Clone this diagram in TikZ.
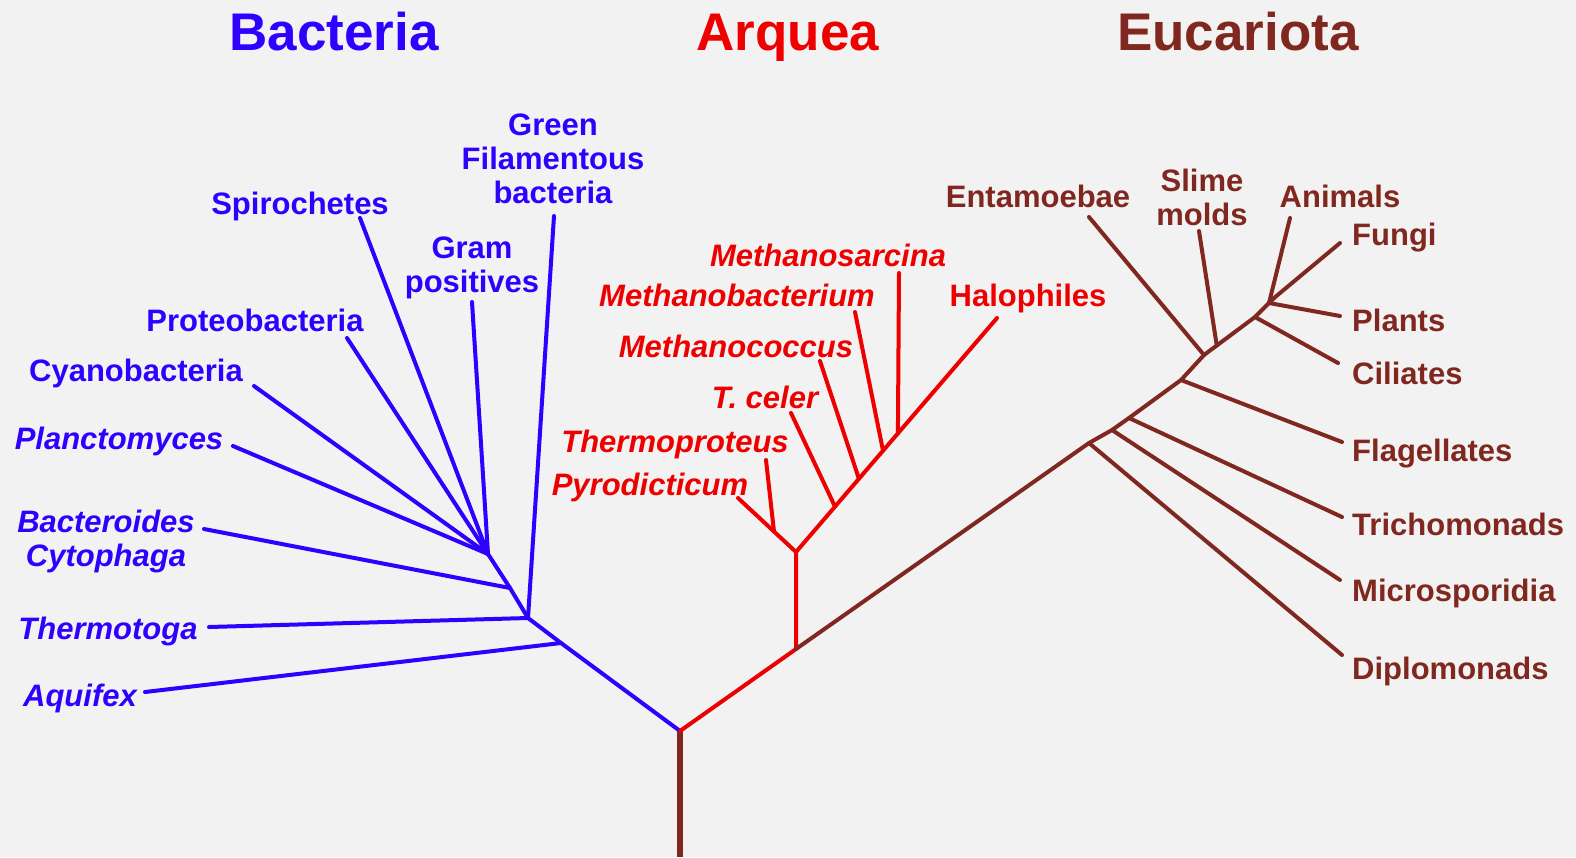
\documentclass[tikz,border=0pt]{standalone}
\usepackage{fontspec}
\usetikzlibrary{calc}
\setmainfont{Liberation Sans}
\definecolor{bact}{RGB}{45,0,255}
\definecolor{arq}{RGB}{238,0,0}
\definecolor{euc}{RGB}{128,40,32}
\definecolor{bgc}{RGB}{242,242,242}
\tikzset{
  lbl/.style={font=\fontsize{31}{34}\selectfont\bfseries, align=center, inner sep=0pt},
  itl/.style={font=\fontsize{31}{34}\selectfont\bfseries\itshape, align=center, inner sep=0pt},
  ttl/.style={font=\fontsize{53}{60}\selectfont\bfseries, inner sep=0pt},
  br/.style={line width=4pt, line cap=round, line join=round},
  bl/.style={br, draw=bact},
  rl/.style={br, draw=arq},
  el/.style={br, draw=euc},
}
\begin{document}
\begin{tikzpicture}[x=1pt,y=-1pt]
\fill[bgc] (0,0) rectangle (1576,857);
\useasboundingbox (0,0) rectangle (1576,857);

% titles
\node[ttl, text=bact, anchor=base] (tB) at (334,50) {Bacteria};
\node[ttl, text=arq, anchor=base] (tA) at (788,50) {Arquea};
\node[ttl, text=euc, anchor=base] (tE) at (1238,50) {Eucariota};

% ---------- root ----------
\coordinate (R) at (680,731);
\coordinate (Rb) at (680,857);
\draw[el, line width=5.5pt, line cap=butt] (R) -- (Rb);

% ---------- Bacteria ----------
\coordinate (Baq) at (561,643);
\coordinate (Bth) at (528,618);
\coordinate (Bbc) at (510,588);
\coordinate (C1) at (488,554);
\draw[bl] (R) -- (Baq) -- (Bth) -- (Bbc) -- (C1);

\node[lbl, text=bact] (nGreen) at (553,159) {Green\\Filamentous\\bacteria};
\node[lbl, text=bact, anchor=base] (nSpiro) at (300,214) {Spirochetes};
\node[lbl, text=bact] (nGram) at (472,268) {Gram\\positives};
\node[lbl, text=bact, anchor=base] (nProt) at (255,331) {Proteobacteria};
\node[lbl, text=bact, anchor=base] (nCyan) at (136,381) {Cyanobacteria};
\node[itl, text=bact, anchor=base] (nPlan) at (119,449) {Planctomyces};
\node[itl, text=bact] (nBact) at (106,541) {Bacteroides\\Cytophaga};
\node[itl, text=bact, anchor=base] (nTherm) at (108,639) {Thermotoga};
\node[itl, text=bact, anchor=base] (nAqu) at (80,706) {Aquifex};

\coordinate (eGreen) at (554,216);
\coordinate (eSpiro) at (360,218);
\coordinate (eGram) at (472,302);
\coordinate (eProt) at (347,338);
\coordinate (eCyan) at (254,386);
\coordinate (ePlan) at (233,446);
\coordinate (eBact) at (204,529);
\coordinate (eTherm) at (209,627);
\coordinate (eAqu) at (145,692);

\draw[bl] (eGreen) -- (Bth);
\draw[bl] (eSpiro) -- (C1);
\draw[bl] (eGram) -- (C1);
\draw[bl] (eProt) -- (C1);
\draw[bl] (eCyan) -- (C1);
\draw[bl] (ePlan) -- (C1);
\draw[bl] (eBact) -- (Bbc);
\draw[bl] (eTherm) -- (Bth);
\draw[bl] (eAqu) -- (Baq);

% ---------- Archaea ----------
\coordinate (A0) at (796,649);
\coordinate (A1) at (796,552);
\coordinate (eHalo) at (997,318);
\coordinate (ePyro) at (738,498);
\coordinate (eThp) at (766,460);
\coordinate (eTc) at (791,413);
\coordinate (eMc) at (820,361);
\coordinate (eMb) at (855,312);
\coordinate (eMs) at (899,273);
\coordinate (P1) at ($(A1)!0.38!(ePyro)$);
\coordinate (Jtc) at ($(A1)!0.194!(eHalo)$);
\coordinate (Jmc) at ($(A1)!0.313!(eHalo)$);
\coordinate (Jmb) at ($(A1)!0.433!(eHalo)$);
\coordinate (Jms) at ($(A1)!0.507!(eHalo)$);

\draw[rl] (R) -- (A0) -- (A1);
\draw[rl] (A1) -- (ePyro);
\draw[rl] (eThp) -- (P1);
\draw[rl] (A1) -- (eHalo);
\draw[rl] (eTc) -- (Jtc);
\draw[rl] (eMc) -- (Jmc);
\draw[rl] (eMb) -- (Jmb);
\draw[rl] (eMs) -- (Jms);

\node[itl, text=arq, anchor=base] (nMs) at (828,266) {Methanosarcina};
\node[itl, text=arq, anchor=base] (nMb) at (737,306) {Methanobacterium};
\node[itl, text=arq, anchor=base] (nMc) at (736,357) {Methanococcus};
\node[itl, text=arq, anchor=base] (nTc) at (765,408) {T. celer};
\node[itl, text=arq, anchor=base] (nThp) at (675,452) {Thermoproteus};
\node[itl, text=arq, anchor=base] (nPyro) at (650,495) {Pyrodicticum};
\node[lbl, text=arq, anchor=base] (nHalo) at (1028,306) {Halophiles};

% ---------- Eukaryota ----------
\coordinate (E1) at (1089,443);
\coordinate (E2) at (1112,430);
\coordinate (E3) at (1129,418);
\coordinate (E4) at (1181,380);
\coordinate (E5) at (1204,355);
\coordinate (E6) at (1255,317);
\coordinate (E7) at (1269,303);
\coordinate (E8) at (1274,298);
\coordinate (Es) at ($(E5)!0.25!(E6)$);
\draw[el] (A0) -- (E1) -- (E2) -- (E3) -- (E4) -- (E5) -- (E6) -- (E7) -- (E8);

\coordinate (eDip) at (1342,655);
\coordinate (eMic) at (1340,580);
\coordinate (eTri) at (1342,517);
\coordinate (eFla) at (1342,442);
\coordinate (eEnt) at (1089,217);
\coordinate (eSli) at (1199,231);
\coordinate (eCil) at (1338,363);
\coordinate (ePla) at (1340,316);
\coordinate (eAni) at (1290,218);
\coordinate (eFun) at (1340,243);

\draw[el] (E1) -- (eDip);
\draw[el] (E2) -- (eMic);
\draw[el] (E3) -- (eTri);
\draw[el] (E4) -- (eFla);
\draw[el] (eEnt) -- (E5);
\draw[el] (eSli) -- (Es);
\draw[el] (E6) -- (eCil);
\draw[el] (E7) -- (ePla);
\draw[el] (eAni) -- (E7);
\draw[el] (E8) -- (eFun);

\node[lbl, text=euc, anchor=base] (nEnt) at (1038,207) {Entamoebae};
\node[lbl, text=euc] (nSli) at (1202,197) {Slime\\molds};
\node[lbl, text=euc, anchor=base] (nAni) at (1340,207) {Animals};
\node[lbl, text=euc, anchor=base west] (nFun) at (1352,245) {Fungi};
\node[lbl, text=euc, anchor=base west] (nPla) at (1352,331) {Plants};
\node[lbl, text=euc, anchor=base west] (nCil) at (1352,384) {Ciliates};
\node[lbl, text=euc, anchor=base west] (nFla) at (1352,461) {Flagellates};
\node[lbl, text=euc, anchor=base west] (nTri) at (1352,535) {Trichomonads};
\node[lbl, text=euc, anchor=base west] (nMic) at (1352,601) {Microsporidia};
\node[lbl, text=euc, anchor=base west] (nDip) at (1352,679) {Diplomonads};
\end{tikzpicture}
\end{document}
